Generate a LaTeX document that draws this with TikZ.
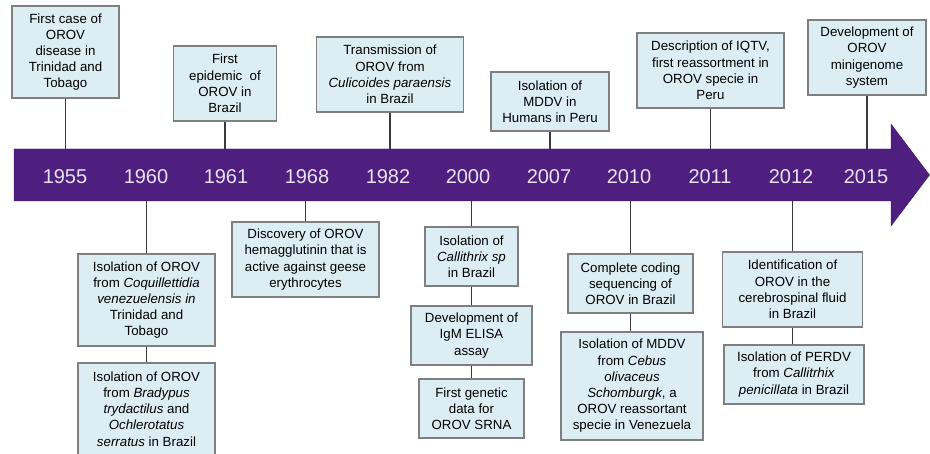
\documentclass[tikz,border=0pt]{standalone}
\usepackage{fontspec}
\setmainfont{Liberation Sans}
\definecolor{barpurple}{HTML}{4F1F80}
\definecolor{boxfill}{HTML}{DCEEF4}
\definecolor{boxline}{HTML}{7F7F7F}
\definecolor{conn}{HTML}{3A3A3A}
\definecolor{yeartext}{HTML}{E8E2F2}
\begin{document}
\begin{tikzpicture}[x=1pt,y=-1pt,
  evbox/.style={draw=boxline, line width=1.1pt, fill=boxfill, inner sep=0pt, align=center,
    font=\fontsize{13.3}{16.2}\selectfont},
  yearlbl/.style={text=yeartext, font=\fontsize{20}{24}\selectfont, inner sep=0pt},
  connline/.style={draw=conn, line width=1.1pt}]
\useasboundingbox (0,0) rectangle (930,454);
% timeline arrow
\fill[barpurple, draw=barpurple!80!black, line width=0.4pt]
  (14,149) -- (891,149) -- (891,124) -- (929.5,175) -- (891,226) -- (891,201) -- (14,201) -- cycle;
\coordinate (bartop) at (0,149);
\coordinate (barbot) at (0,201);
% years
\node[yearlbl] (y1955) at (65,177) {1955};
\node[yearlbl] (y1960) at (146,177) {1960};
\node[yearlbl] (y1961) at (226,177) {1961};
\node[yearlbl] (y1968) at (307,177) {1968};
\node[yearlbl] (y1982) at (388,177) {1982};
\node[yearlbl] (y2000) at (468,177) {2000};
\node[yearlbl] (y2007) at (549,177) {2007};
\node[yearlbl] (y2010) at (629,177) {2010};
\node[yearlbl] (y2011) at (710,177) {2011};
\node[yearlbl] (y2012) at (791,177) {2012};
\node[yearlbl] (y2015) at (866,177) {2015};
% top boxes
\node[evbox, minimum width=107, minimum height=92] (b1955) at (65.5,52) {First case of\\OROV\\disease in\\Trinidad and\\Tobago};
\node[evbox, minimum width=103, minimum height=75] (b1961) at (225,83.5) {First\\epidemic\ \ of\\OROV in\\Brazil};
\node[evbox, minimum width=147, minimum height=75] (b1982) at (390,74.5) {Transmission of\\OROV from\\\textit{Culicoides paraensis}\\in Brazil};
\node[evbox, minimum width=118, minimum height=59] (b2007) at (550,101.5) {Isolation of\\MDDV in\\Humans in Peru};
\node[evbox, minimum width=147, minimum height=75] (b2011) at (710.5,70.5) {Description of IQTV,\\first reassortment in\\OROV specie in\\Peru};
\node[evbox, minimum width=118, minimum height=75] (b2015) at (867,57.5) {Development of\\OROV\\minigenome\\system};
% bottom boxes
\node[evbox, minimum width=137, minimum height=92] (b1960a) at (146.5,300) {Isolation of OROV\\from \textit{Coquillettidia}\\\textit{venezuelensis in}\\Trinidad and\\Tobago};
\node[evbox, minimum width=137, minimum height=92] (b1960b) at (146.5,409) {Isolation of OROV\\from \textit{Bradypus}\\\textit{trydactilus} and\\\textit{Ochlerotatus}\\\textit{serratus} in Brazil};
\node[evbox, minimum width=147, minimum height=75] (b1968) at (305.5,259.5) {Discovery of OROV\\hemagglutinin that is\\active against geese\\erythrocytes};
\node[evbox, minimum width=93, minimum height=59] (b2000a) at (471.5,256.5) {Isolation of\\\textit{Callithrix sp}\\in Brazil};
\node[evbox, minimum width=121, minimum height=59] (b2000b) at (471.5,335.5) {Development of\\IgM ELISA\\assay};
\node[evbox, minimum width=105, minimum height=59] (b2000c) at (471.5,408.5) {First genetic\\data for\\OROV SRNA};
\node[evbox, minimum width=125, minimum height=59] (b2010a) at (630.5,283.5) {Complete coding\\sequencing of\\OROV in Brazil};
\node[evbox, minimum width=142, minimum height=108] (b2010b) at (632,386) {Isolation of MDDV\\from \textit{Cebus}\\\textit{olivaceus}\\\textit{Schomburgk}, a\\OROV reassortant\\specie in Venezuela};
\node[evbox, minimum width=140, minimum height=75] (b2012a) at (792.5,289.5) {Identification of\\OROV in the\\cerebrospinal fluid\\in Brazil};
\node[evbox, minimum width=140, minimum height=59] (b2012b) at (794,374.5) {Isolation of PERDV\\from \textit{Callitrhix}\\\textit{penicillata} in Brazil};
% connectors, top
\draw[connline] (b1955.south) -- (b1955.south |- bartop);
\draw[connline] (b1961.south) -- (b1961.south |- bartop);
\draw[connline] (b1982.south) -- (b1982.south |- bartop);
\draw[connline] (b2007.south) -- (b2007.south |- bartop);
\draw[connline] (b2011.south) -- (b2011.south |- bartop);
\draw[connline] (b2015.south) -- (b2015.south |- bartop);
% connectors, bottom
\draw[connline] (b1960a.north) -- (b1960a.north |- barbot);
\draw[connline] (b1960a.south) -- (b1960b.north);
\draw[connline] (b1968.north) -- (b1968.north |- barbot);
\draw[connline] (b2000a.north) -- (b2000a.north |- barbot);
\draw[connline] (b2000a.south) -- (b2000b.north);
\draw[connline] (b2000b.south) -- (b2000c.north);
\draw[connline] (b2010a.north) -- (b2010a.north |- barbot);
\draw[connline] (b2010a.south) -- (b2010a.south |- b2010b.north);
\draw[connline] (b2012a.north) -- (b2012a.north |- barbot);
\draw[connline] (b2012a.south) -- (b2012a.south |- b2012b.north);
\end{tikzpicture}
\end{document}
